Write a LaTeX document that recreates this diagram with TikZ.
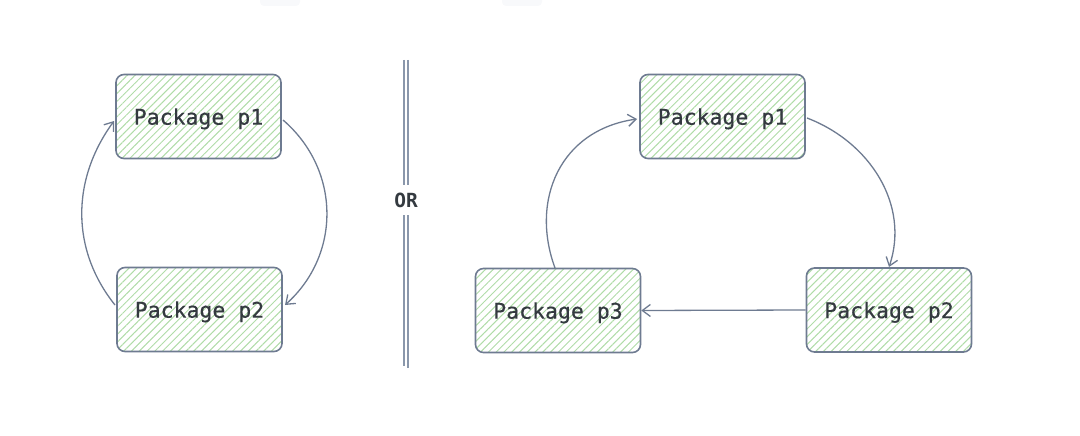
\documentclass[tikz,border=0pt]{standalone}
\usepackage{fontspec}
\setmonofont{DejaVu Sans Mono}
\newfontfamily\pkgfont{DejaVu Sans Mono}[FakeBold=0.5]
\usetikzlibrary{arrows.meta,patterns.meta}
\definecolor{strk}{HTML}{6E7B91}
\definecolor{sepc}{HTML}{8A97AB}
\definecolor{hatch}{HTML}{B0DCA8}
\definecolor{txt}{HTML}{343A40}
\definecolor{faint}{HTML}{F8F9FB}
\tikzset{
  pkg/.style={draw=strk, line width=1.6pt, rounded corners=8pt,
    minimum width=165pt, minimum height=84pt, inner sep=0pt, text depth=0pt,
    pattern={Lines[angle=45,distance=5.5pt,line width=1pt]}, pattern color=hatch,
    font=\pkgfont\fontsize{21.5}{24}\selectfont, text=txt},
  conn/.style={draw=strk, line width=1.3pt, -{Straight Barb[length=8pt,width=12pt,line width=1.3pt]}},
  sep/.style={draw=sepc, line width=1.3pt},
}
\begin{document}
\begin{tikzpicture}[x=1pt,y=-1pt]
\useasboundingbox (0,0) rectangle (1080,436);
\fill[faint, rounded corners=4pt] (260,-6) rectangle (300,6);
\fill[faint, rounded corners=4pt] (502,-6) rectangle (542,6);
% left diagram
\node[pkg] (lp1) at (198.5,116.5) {Package p1};
\node[pkg] (lp2) at (199.5,309.5) {Package p2};
\coordinate (la) at (115,305);
\coordinate (lb) at (114,121);
\coordinate (lc) at (283,120);
\coordinate (ld) at (285,305);
\draw[conn] (la) .. controls (71,250) and (71,180) .. (lb);
\draw[conn] (lc) .. controls (341,170) and (341,255) .. (ld);
% separator
\node[font=\ttfamily\bfseries\fontsize{19.5}{22}\selectfont, text=txt] (or) at (406,200) {OR};
\coordinate (s1) at (404,60);
\coordinate (s2) at (408,60);
\draw[sep] (s1) -- (404,185) (s2) -- (408,185);
\draw[sep] (404,215) -- (404,366) (408,215) -- (408,368);
% right diagram
\node[pkg] (rp1) at (722.5,116.5) {Package p1};
\node[pkg] (rp3) at (558,310.5) {Package p3};
\node[pkg] (rp2) at (889,310) {Package p2};
\coordinate (ra) at (555,268);
\coordinate (rb) at (637,119);
\coordinate (rc) at (807,118);
\coordinate (rd) at (889,267);
\draw[conn] (ra) .. controls (530,200) and (560,130) .. (rb);
\draw[conn] (rc) .. controls (870,142) and (910,205) .. (rd);
\draw[conn] (rp2.west) -- (rp3.east);
\end{tikzpicture}
\end{document}
